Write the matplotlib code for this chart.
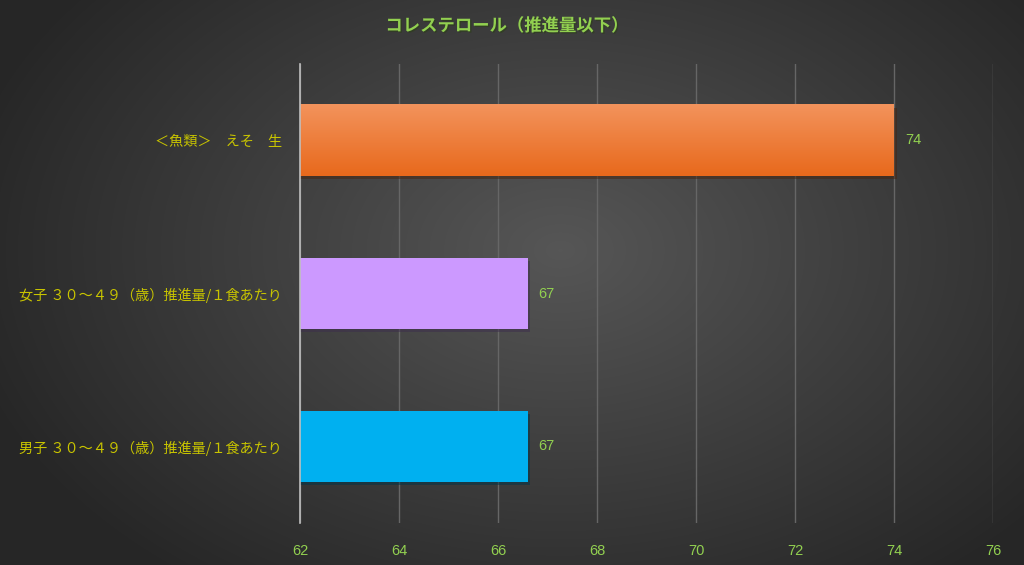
import numpy as np
import matplotlib.pyplot as plt
import matplotlib.patheffects as pe
from matplotlib.colors import LinearSegmentedColormap

plt.rcParams['font.family'] = ['Noto Sans CJK JP', 'DejaVu Sans']

# Data
categories = ['男子 ３０～４９（歳）推進量/１食あたり',
              '女子 ３０～４９（歳）推進量/１食あたり',
              '＜魚類＞　えそ　生']
values = [66.6, 66.6, 74.0]
colors = ['#00b0f0', '#cc99ff', '#ed7d31']
xticks = [62, 64, 66, 68, 70, 72, 74, 76]

fig = plt.figure(figsize=(10.24, 5.65), dpi=100)

# Radial gradient background
bg = fig.add_axes([0, 0, 1, 1], zorder=-10)
yy, xx = np.mgrid[0:565, 0:1024]
r = np.sqrt(((xx - 560) / 620.0) ** 2 + ((yy - 250) / 420.0) ** 2)
shade = np.clip(1 - r, 0, 1)
bgcmap = LinearSegmentedColormap.from_list('bg', ['#262626', '#565656'])
bg.imshow(shade, cmap=bgcmap, aspect='auto', vmin=0, vmax=1)
bg.axis('off')

ax = fig.add_axes([300 / 1024, 1 - 523 / 565, 693 / 1024, 459 / 565])
ax.set_facecolor('none')

xmin, xmax = 62, 76
y = np.arange(len(categories))
h = 0.465
bars = ax.barh(y, values, height=h, color=colors, zorder=3,
               path_effects=[pe.SimplePatchShadow(offset=(2, -2), alpha=0.5), pe.Normal()])

# gradient on orange bar
ocmap = LinearSegmentedColormap.from_list('org', ['#e8691c', '#f3935c'])
grad = np.linspace(0, 1, 100).reshape(-1, 1)
ax.imshow(grad, cmap=ocmap, aspect='auto', origin='lower',
          extent=[xmin, values[2], y[2] - h / 2, y[2] + h / 2], zorder=4)

for i, v in enumerate(values):
    ax.text(v + 0.22, i, f'{v:.0f}', color='#92d050', fontsize=10.5,
            va='center', ha='left', zorder=6,
            family=['Liberation Sans', 'DejaVu Sans'])

ax.set_xlim(xmin, xmax)
ax.set_ylim(-0.5, 2.5)
ax.set_xticks(xticks)
ax.set_xticklabels([str(t) for t in xticks], color='#92d050', fontsize=10.5,
                   family=['Liberation Sans Narrow', 'Liberation Sans', 'DejaVu Sans'])
ax.tick_params(axis='x', length=0, pad=15)
ax.set_yticks(y)
ax.set_yticklabels(categories, color='#c8c400', fontsize=10.2)
ax.tick_params(axis='y', length=0, pad=13)

ax.grid(axis='x', color='#666666', linewidth=1, zorder=0)
for s in ['top', 'right', 'bottom']:
    ax.spines[s].set_visible(False)
ax.spines['left'].set_color('#bfbfbf')
ax.spines['left'].set_linewidth(1.2)
ax.spines['left'].set_zorder(5)

fig.text(507 / 1024, 1 - 26 / 565, 'コレステロール（推進量以下）', color='#92d050',
         fontsize=12.5, fontweight='bold', ha='center', va='center',
         path_effects=[pe.withSimplePatchShadow(offset=(1, -1), alpha=0.6)])

fig.savefig('out.png', dpi=100)
